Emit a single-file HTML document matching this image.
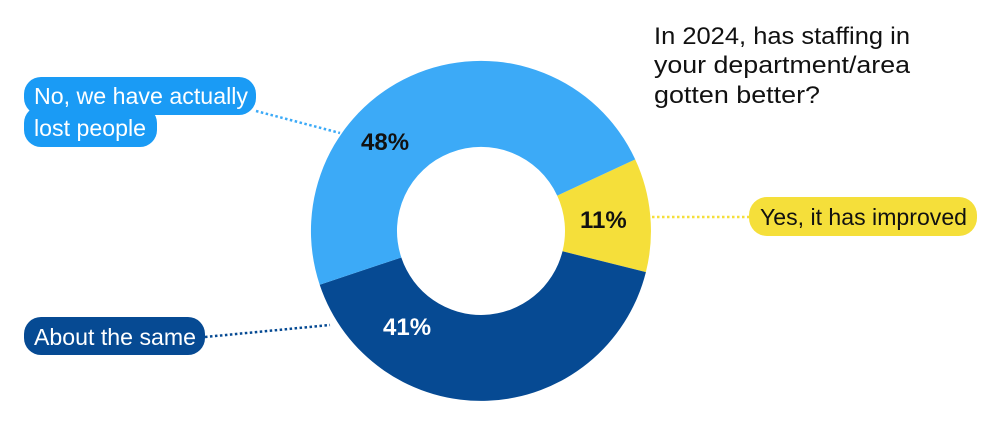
<!DOCTYPE html>
<html><head><style>
body{margin:0;background:#fff;width:1000px;height:423px;overflow:hidden;font-family:"Liberation Sans",sans-serif}
</style></head><body>
<svg width="1000" height="423" viewBox="0 0 1000 423" xmlns="http://www.w3.org/2000/svg" font-family="Liberation Sans, sans-serif">
<rect width="1000" height="423" fill="#fff"/>
<path d="M635.2,159.4 A170,170 0 0 1 645.9,272.1 L562.5,251.3 A84,84 0 0 0 557.2,195.6 Z" fill="#f5df3a"/>
<path d="M645.9,272.1 A170,170 0 0 1 319.7,284.7 L401.3,257.5 A84,84 0 0 0 562.5,251.3 Z" fill="#064a93"/>
<path d="M319.7,284.7 A170,170 0 0 1 635.2,159.4 L557.2,195.6 A84,84 0 0 0 401.3,257.5 Z" fill="#3caaf7"/>
<line x1="256" y1="111" x2="340" y2="133" stroke="#3caaf7" stroke-width="2.5" stroke-dasharray="2.5,2.5"/>
<line x1="205" y1="337" x2="330" y2="325" stroke="#064a93" stroke-width="2.5" stroke-dasharray="2.5,2.5"/>
<line x1="652" y1="217" x2="749" y2="217" stroke="#f5df3a" stroke-width="2.5" stroke-dasharray="2.5,2.5"/>
<rect x="24" y="77" width="232" height="38" rx="17" fill="#1a9bf5"/>
<rect x="24" y="106" width="133" height="41" rx="17" fill="#1a9bf5"/>
<rect x="24" y="317" width="181" height="38" rx="17" fill="#064a93"/>
<rect x="749" y="197" width="228" height="39" rx="18" fill="#f5df3a"/>
<g font-size="23" fill="#fff">
<text x="34" y="104" textLength="214" lengthAdjust="spacingAndGlyphs">No, we have actually</text>
<text x="34" y="136" textLength="112" lengthAdjust="spacingAndGlyphs">lost people</text>
<text x="34" y="345" textLength="162" lengthAdjust="spacingAndGlyphs">About the same</text>
</g>
<text x="760" y="225" font-size="23" fill="#111" textLength="207" lengthAdjust="spacingAndGlyphs">Yes, it has improved</text>
<g font-size="24" fill="#111">
<text x="654" y="44" textLength="256" lengthAdjust="spacingAndGlyphs">In 2024, has staffing in</text>
<text x="654" y="73" textLength="256" lengthAdjust="spacingAndGlyphs">your department/area</text>
<text x="654" y="103" textLength="166" lengthAdjust="spacingAndGlyphs">gotten better?</text>
</g>
<g font-size="24" font-weight="bold">
<text x="361" y="150" fill="#111">48%</text>
<text x="383" y="335" fill="#fff">41%</text>
<text x="580" y="228" fill="#111">11%</text>
</g>
</svg>
</body></html>
